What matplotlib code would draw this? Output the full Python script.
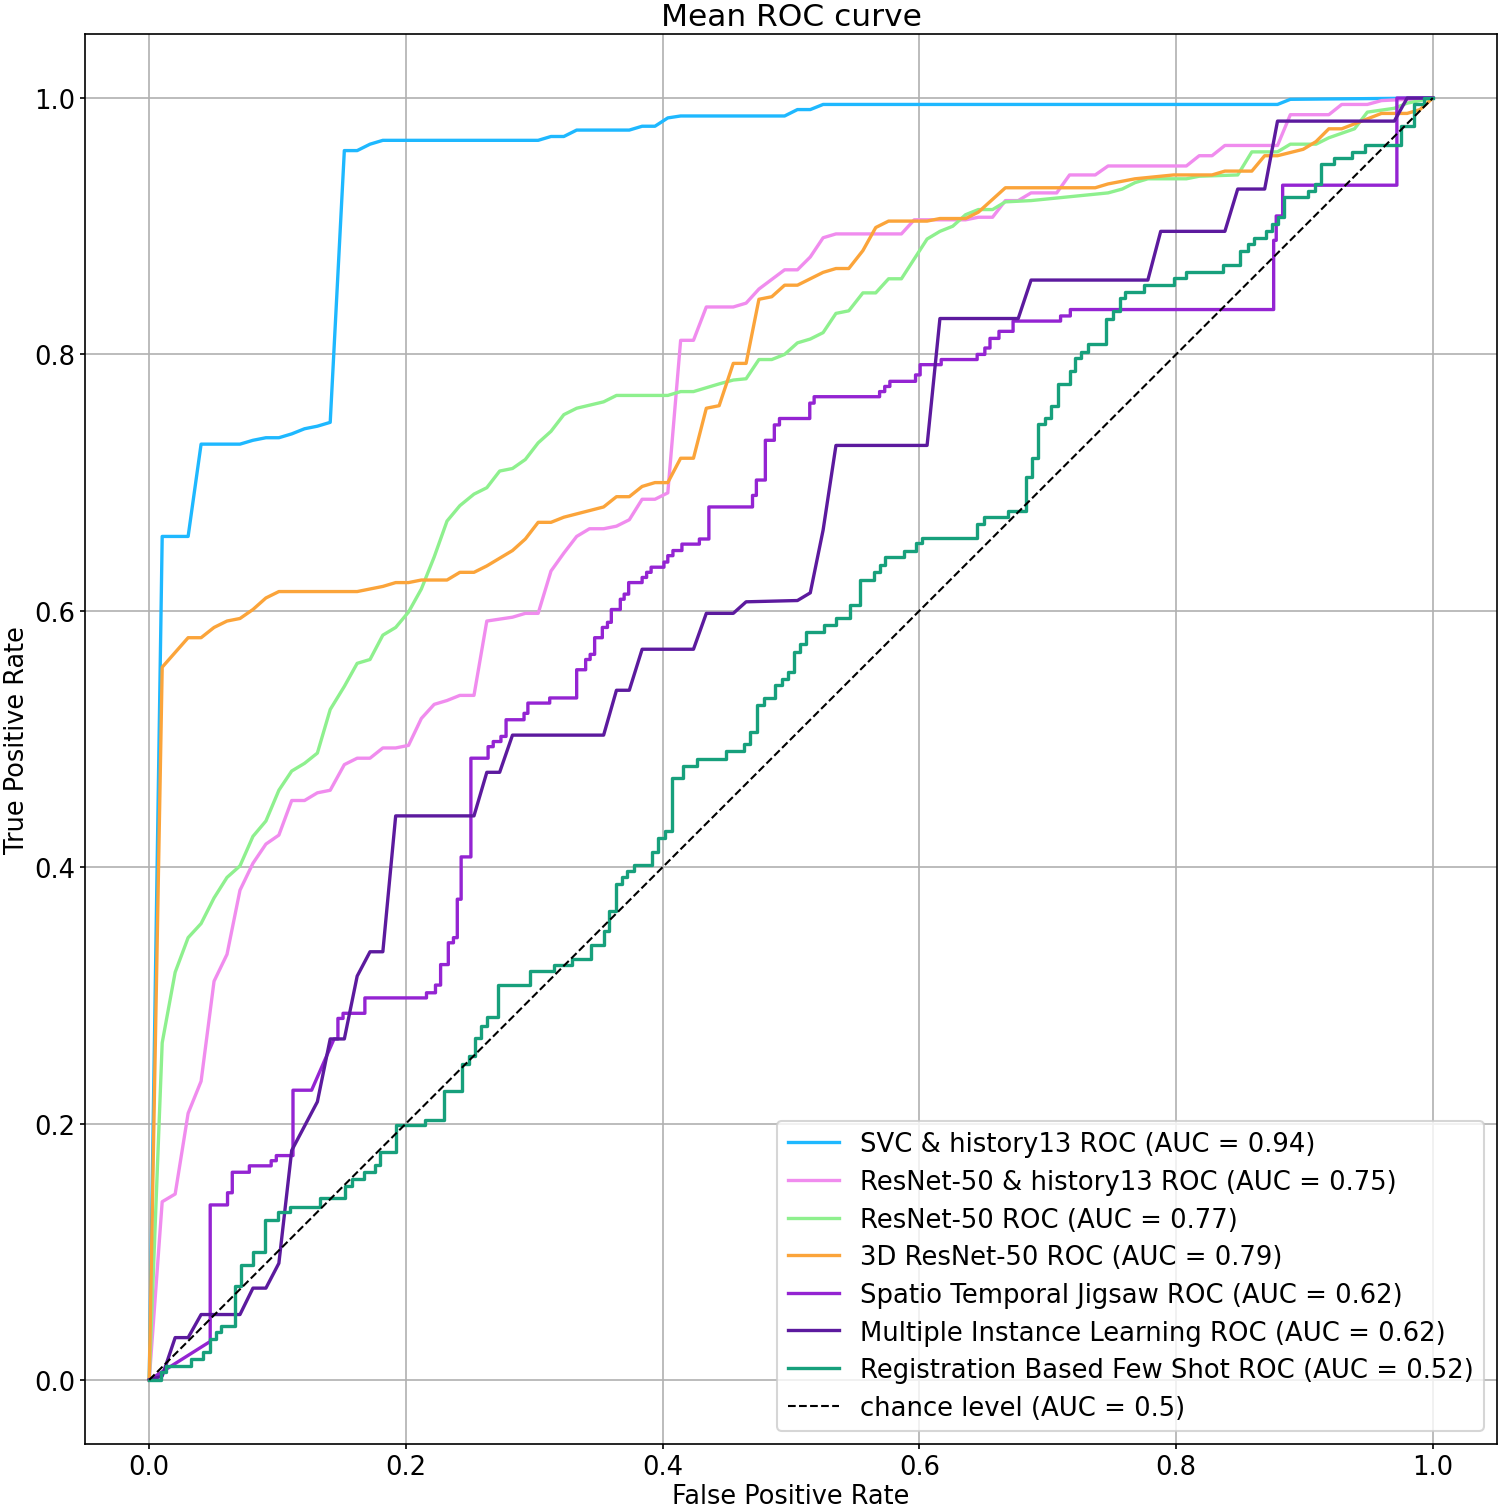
import numpy as np
import matplotlib
matplotlib.use("Agg")
import matplotlib.pyplot as plt

plt.rcParams['font.size'] = 12.4
plt.rcParams['xtick.major.size'] = 2.4
plt.rcParams['ytick.major.size'] = 2.4
plt.rcParams['xtick.major.pad'] = 2.4
plt.rcParams['ytick.major.pad'] = 2.4

# (fpr, tpr) points
svc_hist = [(0, 0), (0.0101, 0.658), (0.0303, 0.658), (0.0404, 0.730), (0.0707, 0.730), (0.0808, 0.733),
            (0.0909, 0.735), (0.101, 0.735), (0.111, 0.738), (0.121, 0.742), (0.131, 0.744), (0.141, 0.747),
            (0.152, 0.959), (0.162, 0.959), (0.172, 0.964), (0.182, 0.967), (0.303, 0.967), (0.313, 0.970),
            (0.323, 0.970), (0.333, 0.975), (0.374, 0.975), (0.384, 0.978), (0.394, 0.978), (0.404, 0.9845),
            (0.414, 0.986), (0.495, 0.986), (0.505, 0.991), (0.515, 0.991), (0.525, 0.995), (0.879, 0.995),
            (0.889, 0.999), (1.0, 1.0)]

resnet_hist = [(0, 0), (0.0101, 0.139), (0.0202, 0.145), (0.0303, 0.208), (0.0404, 0.233), (0.0505, 0.311),
               (0.0606, 0.332), (0.0707, 0.382), (0.0808, 0.403), (0.0909, 0.418), (0.101, 0.425), (0.111, 0.452),
               (0.121, 0.452), (0.131, 0.458), (0.141, 0.460), (0.152, 0.480), (0.162, 0.485), (0.172, 0.485),
               (0.182, 0.493), (0.192, 0.493), (0.202, 0.495), (0.212, 0.516), (0.222, 0.527), (0.232, 0.530),
               (0.242, 0.534), (0.253, 0.534), (0.263, 0.592), (0.283, 0.595), (0.293, 0.598), (0.303, 0.598),
               (0.313, 0.631), (0.323, 0.645), (0.333, 0.658), (0.343, 0.664), (0.354, 0.664), (0.364, 0.666),
               (0.374, 0.671), (0.384, 0.687), (0.394, 0.687), (0.404, 0.692), (0.414, 0.811), (0.424, 0.811),
               (0.434, 0.837), (0.455, 0.837), (0.465, 0.840), (0.475, 0.851), (0.495, 0.866), (0.505, 0.866),
               (0.515, 0.876), (0.525, 0.891), (0.535, 0.894), (0.586, 0.894), (0.596, 0.905), (0.636, 0.905),
               (0.646, 0.907), (0.657, 0.907), (0.667, 0.920), (0.677, 0.920), (0.687, 0.926), (0.707, 0.926),
               (0.717, 0.940), (0.737, 0.940), (0.747, 0.947), (0.808, 0.947), (0.818, 0.955), (0.828, 0.955),
               (0.838, 0.963), (0.879, 0.963), (0.889, 0.987), (0.919, 0.987), (0.929, 0.995), (0.949, 0.995),
               (0.960, 0.998), (1.0, 1.0)]

resnet = [(0, 0), (0.0101, 0.263), (0.0202, 0.318), (0.0303, 0.345), (0.0404, 0.356), (0.0505, 0.376),
          (0.0606, 0.392), (0.0707, 0.401), (0.0808, 0.424), (0.0909, 0.436), (0.101, 0.460), (0.111, 0.475),
          (0.121, 0.481), (0.131, 0.489), (0.141, 0.523), (0.152, 0.541), (0.162, 0.559), (0.172, 0.562),
          (0.182, 0.581), (0.192, 0.587), (0.202, 0.599), (0.212, 0.617), (0.222, 0.642), (0.232, 0.670),
          (0.242, 0.682), (0.253, 0.691), (0.263, 0.696), (0.273, 0.709), (0.283, 0.711), (0.293, 0.718),
          (0.303, 0.731), (0.313, 0.740), (0.323, 0.753), (0.333, 0.758), (0.354, 0.763), (0.364, 0.768),
          (0.404, 0.768), (0.414, 0.771), (0.424, 0.771), (0.434, 0.774), (0.444, 0.777), (0.455, 0.780),
          (0.465, 0.781), (0.475, 0.796), (0.485, 0.796), (0.495, 0.800), (0.505, 0.809), (0.515, 0.812),
          (0.525, 0.817), (0.535, 0.832), (0.545, 0.834), (0.556, 0.848), (0.566, 0.848), (0.576, 0.859),
          (0.586, 0.859), (0.606, 0.890), (0.616, 0.896), (0.626, 0.900), (0.636, 0.909), (0.646, 0.913),
          (0.657, 0.913), (0.667, 0.919), (0.687, 0.920), (0.747, 0.926), (0.758, 0.929), (0.768, 0.934),
          (0.778, 0.937), (0.808, 0.937), (0.818, 0.939), (0.848, 0.940), (0.859, 0.958), (0.879, 0.958),
          (0.889, 0.964), (0.909, 0.964), (0.919, 0.969), (0.939, 0.976), (0.949, 0.989), (0.970, 0.992),
          (0.980, 0.996), (1.0, 1.0)]

resnet3d = [(0, 0), (0.0101, 0.556), (0.0303, 0.579), (0.0404, 0.579), (0.0505, 0.587), (0.0606, 0.592),
            (0.0707, 0.594), (0.0808, 0.601), (0.0909, 0.610), (0.101, 0.615), (0.162, 0.615), (0.172, 0.617),
            (0.182, 0.619), (0.192, 0.622), (0.202, 0.622), (0.212, 0.624), (0.232, 0.624), (0.242, 0.630),
            (0.253, 0.630), (0.263, 0.635), (0.273, 0.641), (0.283, 0.647), (0.293, 0.656), (0.303, 0.669),
            (0.313, 0.669), (0.323, 0.673), (0.354, 0.681), (0.364, 0.689), (0.374, 0.689), (0.384, 0.697),
            (0.394, 0.700), (0.404, 0.700), (0.414, 0.719), (0.424, 0.719), (0.434, 0.758), (0.444, 0.760),
            (0.455, 0.793), (0.465, 0.793), (0.475, 0.843), (0.485, 0.845), (0.495, 0.854), (0.505, 0.854),
            (0.525, 0.864), (0.535, 0.867), (0.545, 0.867), (0.556, 0.881), (0.566, 0.899), (0.576, 0.904),
            (0.606, 0.904), (0.616, 0.906), (0.636, 0.906), (0.646, 0.911), (0.667, 0.930), (0.737, 0.930),
            (0.747, 0.933), (0.768, 0.937), (0.778, 0.938), (0.798, 0.940), (0.828, 0.940), (0.838, 0.943),
            (0.859, 0.943), (0.869, 0.955), (0.879, 0.955), (0.899, 0.960), (0.909, 0.966), (0.919, 0.976),
            (0.929, 0.976), (0.960, 0.988), (0.980, 0.988), (0.990, 0.991), (1.0, 1.0)]

jigsaw = [(0, 0), (0.0475, 0.030), (0.0475, 0.1365), (0.061, 0.1365), (0.061, 0.146), (0.0647, 0.146),
          (0.0647, 0.162), (0.078, 0.162), (0.078, 0.167), (0.095, 0.167), (0.095, 0.171), (0.099, 0.171),
          (0.099, 0.175), (0.112, 0.175), (0.112, 0.226), (0.1265, 0.226), (0.144, 0.266), (0.147, 0.266),
          (0.147, 0.282), (0.151, 0.282), (0.151, 0.286), (0.168, 0.286), (0.168, 0.298), (0.216, 0.298),
          (0.216, 0.302), (0.223, 0.302), (0.223, 0.308), (0.227, 0.308), (0.227, 0.324), (0.233, 0.324),
          (0.233, 0.341), (0.237, 0.341), (0.237, 0.345), (0.240, 0.345), (0.240, 0.375), (0.243, 0.375),
          (0.243, 0.408), (0.2506, 0.408), (0.2506, 0.485), (0.264, 0.485), (0.264, 0.494), (0.268, 0.494),
          (0.268, 0.498), (0.274, 0.498), (0.274, 0.502), (0.278, 0.502), (0.278, 0.515), (0.292, 0.515),
          (0.292, 0.520), (0.295, 0.520), (0.295, 0.528), (0.312, 0.528), (0.312, 0.532), (0.333, 0.532),
          (0.333, 0.554), (0.340, 0.554), (0.340, 0.562), (0.3435, 0.562), (0.3435, 0.566), (0.347, 0.566),
          (0.347, 0.579), (0.353, 0.579), (0.353, 0.587), (0.357, 0.587), (0.357, 0.591), (0.360, 0.591),
          (0.360, 0.601), (0.367, 0.601), (0.367, 0.609), (0.370, 0.609), (0.370, 0.613), (0.3735, 0.613),
          (0.3735, 0.622), (0.384, 0.622), (0.384, 0.626), (0.3875, 0.626), (0.3875, 0.630), (0.391, 0.630),
          (0.391, 0.634), (0.401, 0.634), (0.401, 0.638), (0.404, 0.638), (0.404, 0.643), (0.408, 0.643),
          (0.408, 0.647), (0.415, 0.647), (0.415, 0.652), (0.4286, 0.652), (0.4286, 0.656), (0.436, 0.656),
          (0.436, 0.681), (0.470, 0.681), (0.470, 0.690), (0.473, 0.690), (0.473, 0.702), (0.480, 0.702),
          (0.480, 0.733), (0.487, 0.733), (0.487, 0.745), (0.491, 0.745), (0.491, 0.750), (0.5146, 0.750),
          (0.5146, 0.762), (0.518, 0.762), (0.518, 0.767), (0.569, 0.767), (0.569, 0.771), (0.573, 0.771),
          (0.573, 0.775), (0.577, 0.775), (0.577, 0.779), (0.597, 0.779), (0.597, 0.784), (0.6006, 0.784),
          (0.6006, 0.792), (0.617, 0.792), (0.617, 0.796), (0.645, 0.796), (0.645, 0.800), (0.651, 0.800),
          (0.651, 0.805), (0.655, 0.805), (0.655, 0.8125), (0.662, 0.8125), (0.662, 0.818), (0.673, 0.818),
          (0.673, 0.826), (0.710, 0.826), (0.710, 0.830), (0.7176, 0.830), (0.7176, 0.835), (0.876, 0.835),
          (0.876, 0.889), (0.878, 0.889), (0.878, 0.908), (0.883, 0.908), (0.883, 0.932), (0.972, 0.932),
          (0.972, 1.0), (1.0, 1.0)]

mil = [(0, 0), (0.0101, 0.003), (0.0202, 0.033), (0.0303, 0.033), (0.0404, 0.051), (0.0707, 0.051),
       (0.0808, 0.0716), (0.0909, 0.0716), (0.101, 0.091), (0.111, 0.179), (0.131, 0.217), (0.141, 0.266),
       (0.152, 0.266), (0.162, 0.315), (0.172, 0.334), (0.182, 0.334), (0.192, 0.440), (0.253, 0.440),
       (0.263, 0.474), (0.273, 0.474), (0.283, 0.503), (0.354, 0.503), (0.364, 0.538), (0.374, 0.538),
       (0.384, 0.570), (0.424, 0.570), (0.434, 0.598), (0.455, 0.598), (0.465, 0.607), (0.505, 0.608),
       (0.515, 0.614), (0.525, 0.663), (0.535, 0.729), (0.606, 0.729), (0.616, 0.828), (0.677, 0.828),
       (0.687, 0.858), (0.778, 0.858), (0.788, 0.896), (0.838, 0.896), (0.848, 0.929), (0.869, 0.929),
       (0.879, 0.982), (0.970, 0.982), (0.980, 1.0), (1.0, 1.0)]

registration = [(0, 0), (0.009, 0), (0.009, 0.006), (0.013, 0.006), (0.013, 0.011), (0.0326, 0.011),
                (0.0326, 0.016), (0.042, 0.016), (0.042, 0.022), (0.047, 0.022), (0.047, 0.032), (0.052, 0.032),
                (0.052, 0.037), (0.056, 0.037), (0.056, 0.042), (0.0665, 0.042), (0.0665, 0.0736), (0.0717, 0.0736),
                (0.0717, 0.0895), (0.081, 0.0895), (0.081, 0.0995), (0.090, 0.0995), (0.090, 0.125), (0.100, 0.125),
                (0.100, 0.131), (0.1095, 0.131), (0.1095, 0.135), (0.133, 0.135), (0.133, 0.142), (0.1525, 0.142),
                (0.1525, 0.151), (0.158, 0.151), (0.158, 0.157), (0.167, 0.157), (0.167, 0.162), (0.176, 0.162),
                (0.176, 0.168), (0.180, 0.168), (0.180, 0.178), (0.192, 0.178), (0.192, 0.199), (0.215, 0.199),
                (0.215, 0.203), (0.2294, 0.203), (0.2294, 0.225), (0.244, 0.225), (0.244, 0.2464), (0.249, 0.2464),
                (0.249, 0.253), (0.2536, 0.253), (0.2536, 0.2664), (0.2584, 0.2664), (0.2584, 0.2763), (0.263, 0.2763),
                (0.263, 0.283), (0.272, 0.283), (0.272, 0.308), (0.297, 0.308), (0.297, 0.319), (0.3156, 0.319),
                (0.3156, 0.3235), (0.3295, 0.3235), (0.3295, 0.3287), (0.344, 0.3287), (0.344, 0.339), (0.354, 0.339),
                (0.354, 0.350), (0.3585, 0.350), (0.3585, 0.3658), (0.3634, 0.3658), (0.3634, 0.3865), (0.368, 0.3865),
                (0.368, 0.3925), (0.3724, 0.3925), (0.3724, 0.397), (0.378, 0.397), (0.378, 0.4016), (0.3915, 0.4016),
                (0.3915, 0.4117), (0.3963, 0.4117), (0.3963, 0.4228), (0.4015, 0.4228), (0.4015, 0.4285), (0.407, 0.4285),
                (0.407, 0.4695), (0.416, 0.4695), (0.416, 0.479), (0.4264, 0.479), (0.4264, 0.4846), (0.4496, 0.4846),
                (0.4496, 0.4908), (0.4635, 0.4908), (0.4635, 0.496), (0.4683, 0.496), (0.4683, 0.5058), (0.4738, 0.5058),
                (0.4738, 0.5265), (0.479, 0.5265), (0.479, 0.532), (0.4877, 0.532), (0.4877, 0.542), (0.4926, 0.542),
                (0.4926, 0.547), (0.4974, 0.547), (0.4974, 0.5525), (0.502, 0.5525), (0.502, 0.568), (0.507, 0.568),
                (0.507, 0.574), (0.512, 0.574), (0.512, 0.5837), (0.5255, 0.5837), (0.5255, 0.589), (0.535, 0.589),
                (0.535, 0.594), (0.5458, 0.594), (0.5458, 0.6045), (0.554, 0.6045), (0.554, 0.6244), (0.5646, 0.6244),
                (0.5646, 0.630), (0.569, 0.630), (0.569, 0.6356), (0.5735, 0.6356), (0.5735, 0.642), (0.588, 0.642),
                (0.588, 0.647), (0.597, 0.647), (0.597, 0.653), (0.602, 0.653), (0.602, 0.6565), (0.645, 0.6565),
                (0.645, 0.668), (0.650, 0.668), (0.650, 0.673), (0.669, 0.673), (0.669, 0.678), (0.683, 0.678),
                (0.683, 0.704), (0.688, 0.704), (0.688, 0.719), (0.6925, 0.719), (0.6925, 0.746), (0.6976, 0.746),
                (0.6976, 0.7506), (0.7027, 0.7506), (0.7027, 0.760), (0.708, 0.760), (0.708, 0.777), (0.717, 0.777),
                (0.717, 0.787), (0.7215, 0.787), (0.7215, 0.797), (0.726, 0.797), (0.726, 0.802), (0.731, 0.802),
                (0.731, 0.808), (0.745, 0.808), (0.745, 0.828), (0.751, 0.828), (0.751, 0.834), (0.756, 0.834),
                (0.756, 0.844), (0.760, 0.844), (0.760, 0.849), (0.775, 0.849), (0.775, 0.854), (0.7985, 0.854),
                (0.7985, 0.8595), (0.808, 0.8595), (0.808, 0.8646), (0.8364, 0.8646), (0.8364, 0.8696), (0.850, 0.8696),
                (0.850, 0.881), (0.856, 0.881), (0.856, 0.886), (0.861, 0.886), (0.861, 0.891), (0.870, 0.891),
                (0.870, 0.8964), (0.8746, 0.8964), (0.8746, 0.902), (0.879, 0.902), (0.879, 0.907), (0.884, 0.907),
                (0.884, 0.9226), (0.903, 0.9226), (0.903, 0.9277), (0.908, 0.9277), (0.908, 0.933), (0.913, 0.933),
                (0.913, 0.9485), (0.923, 0.9485), (0.923, 0.953), (0.937, 0.953), (0.937, 0.958), (0.9475, 0.958),
                (0.9475, 0.963), (0.975, 0.963), (0.975, 0.978), (0.9857, 0.978), (0.9857, 0.995), (0.993, 0.995),
                (0.993, 1.0), (1.0, 1.0)]

labels = ["SVC & history13 ROC (AUC = 0.94)",
          "ResNet-50 & history13 ROC (AUC = 0.75)",
          "ResNet-50 ROC (AUC = 0.77)",
          "3D ResNet-50 ROC (AUC = 0.79)",
          "Spatio Temporal Jigsaw ROC (AUC = 0.62)",
          "Multiple Instance Learning ROC (AUC = 0.62)",
          "Registration Based Few Shot ROC (AUC = 0.52)"]
curves = [svc_hist, resnet_hist, resnet, resnet3d, jigsaw, mil, registration]
colors = ['#1EB8FF', '#F08CEE', '#8EF08E', '#FBA43A', '#9424D2', '#5C1A9E', '#17A07C']

fig = plt.figure(figsize=(10, 10.04), dpi=150)
ax = fig.add_axes([0.0567, 0.0405, 0.9413, 0.9363])

for pts, lab, col in zip(curves, labels, colors):
    fpr, tpr = zip(*pts)
    ax.plot(fpr, tpr, color=col, lw=1.6, label=lab)

ax.plot([0, 1], [0, 1], 'k--', lw=1.0, label="chance level (AUC = 0.5)")

ax.set_title("Mean ROC curve", fontsize=15, pad=4.5)
ax.set_xlabel("False Positive Rate", fontsize=12.3, labelpad=1.5)
ax.set_ylabel("True Positive Rate", fontsize=12.3, labelpad=2)
ax.grid(True)
ax.legend(loc="lower right", labelspacing=0.45)

fig.savefig("out.png", dpi=150)
